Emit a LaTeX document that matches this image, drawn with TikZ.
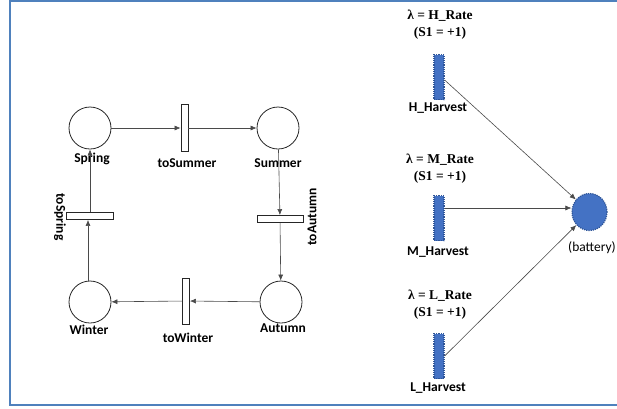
\documentclass[tikz,border=0pt]{standalone}
\usepackage{fontspec}
\setmainfont{Carlito}
\newfontfamily\timesfont{Liberation Serif}
\usetikzlibrary{shapes.geometric,arrows.meta}
\definecolor{framec}{HTML}{4F81BD}
\definecolor{barblue}{HTML}{4472C4}
\definecolor{baredge}{HTML}{2F5597}
\definecolor{linec}{HTML}{4A4A4A}
\tikzset{
  place/.style={circle,draw=black!85,line width=0.8pt,minimum size=42pt,inner sep=0pt},
  vtrans/.style={rectangle,draw=black!85,line width=0.8pt,minimum width=7pt,minimum height=46pt,inner sep=0pt},
  htrans/.style={rectangle,draw=black!85,line width=0.8pt,minimum width=46pt,minimum height=7pt,inner sep=0pt},
  lbl/.style={font=\fontsize{13.5}{15}\selectfont\bfseries,inner sep=0pt,text=black},
  tlbl/.style={font=\timesfont\fontsize{13.5}{15}\selectfont\bfseries,inner sep=0pt,align=center,text=black},
  harv/.style={rectangle,fill=barblue,draw=baredge,densely dotted,line width=1.2pt,minimum width=10pt,minimum height=45pt,inner sep=0pt},
  arr/.style={draw=linec,line width=0.6pt,-{Latex[length=6pt,width=5pt]}},
}
\begin{document}
\begin{tikzpicture}[x=1pt,y=-1pt]
\useasboundingbox (0,0) rectangle (617,408);
% frame
\draw[framec,line width=2pt] (617,1) -- (10,1) -- (10,405) -- (617,405);

% places
\node[place] (spring) at (90,128) {};
\node[place] (summer) at (278,128) {};
\node[place] (autumn) at (281,302) {};
\node[place] (winter) at (90,302) {};
% transitions
\node[vtrans,minimum height=47pt] (tosummer) at (184.5,128) {};
\node[htrans] (toautumn) at (280,219) {};
\node[vtrans] (towinter) at (186,301) {};
\node[htrans,minimum width=47pt] (tospring) at (90,216) {};
% labels
\node[lbl] (lspring) at (92,159) {Spring};
\node[lbl] (lsummer) at (278,163) {Summer};
\node[lbl] (ltosummer) at (187,163) {toSummer};
\node[lbl] (lautumn) at (283,328) {Autumn};
\node[lbl] (lwinter) at (89,330) {Winter};
\node[lbl] (ltowinter) at (188,338) {toWinter};
\node[lbl,rotate=90] (ltoautumn) at (312,217) {toAutumn};
\node[lbl,rotate=-90] (ltospring) at (60,217) {toSpring};
% arcs
\draw[arr] (spring) -- (tosummer);
\draw[arr] (tosummer) -- (summer);
\draw[arr] (summer) -- (toautumn);
\draw[arr] (toautumn) -- (autumn);
\draw[arr] (autumn) -- (towinter);
\draw[arr] (towinter) -- (winter);
\draw[arr] ([xshift=-2pt]winter.north) -- ([xshift=-2pt]tospring.south);
\draw[arr] (tospring) -- (spring);

% right part
\node[tlbl] (hrate) at (440,25) {λ = H\_Rate\\[2pt](S1 = +1)};
\node[harv] (hbar) at (439,77) {};
\node[lbl] (hlab) at (438,108) {H\_Harvest};
\node[tlbl] (mrate) at (440,169) {λ = M\_Rate\\[2pt](S1 = +1)};
\node[harv] (mbar) at (439,218) {};
\node[lbl] (mlab) at (438,252) {M\_Harvest};
\node[tlbl] (lrate) at (440,305) {λ = L\_Rate\\[2pt](S1 = +1)};
\node[harv] (lbar) at (439,356) {};
\node[lbl] (llab) at (438,388) {L\_Harvest};
\node[ellipse,fill=barblue,draw=baredge,densely dotted,line width=1.2pt,minimum width=35pt,minimum height=37pt,inner sep=0pt] (battery) at (589.5,212) {};
\node[lbl,font=\fontsize{13.5}{15}\selectfont] (lbattery) at (592,248) {(battery)};
\draw[arr] ([yshift=-3pt]hbar.east) -- (battery);
\draw[arr] ([yshift=10pt]mbar.east) -- ([yshift=4pt]battery.west);
\draw[arr] (lbar.east) -- (battery);
\end{tikzpicture}
\end{document}
